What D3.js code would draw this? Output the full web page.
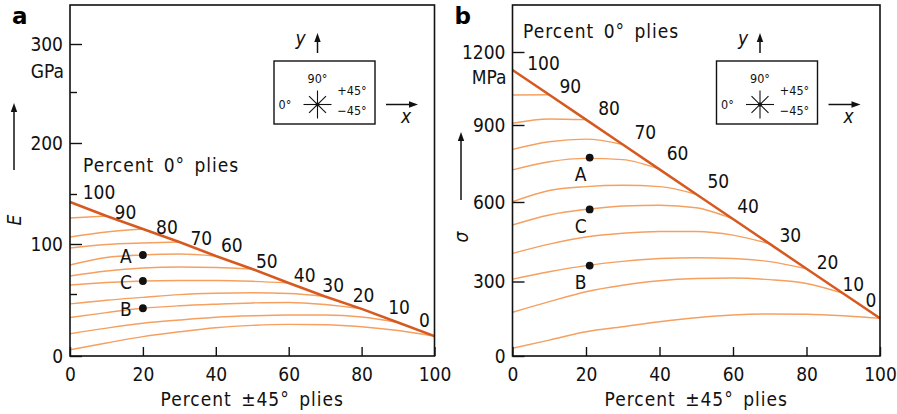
<!DOCTYPE html>
<html lang="en">
<head>
<meta charset="UTF-8">
<title>laminate E and strength</title>
<script src="https://cdn.jsdelivr.net/npm/d3@7"></script>
<style>
  body { margin: 0; background: #fff; }
  svg { display: block; font-family: "DejaVu Sans Condensed", "DejaVu Sans", sans-serif; }
  .thin { fill: none; stroke: #f5a060; stroke-width: 1.45; }
  .env { fill: none; stroke: #d65a20; stroke-width: 2.5; }
  .frame { fill: none; stroke: #111; stroke-width: 1.6; }
  .axis text { font-size: 19px; fill: #111; font-family: "DejaVu Sans Condensed", "DejaVu Sans", sans-serif; }
  .axis line { stroke: #111; stroke-width: 1.4; }
  .lbl { font-size: 19px; fill: #111; }
  .small { font-size: 12.5px; fill: #111; }
</style>
</head>
<body>
<script>
// x: percent +-45 plies, one value every 10 %
var xSteps = [0, 10, 20, 30, 40, 50, 60, 70, 80, 90, 100];
// percent 0 deg plies written along the envelope (at x = 0..100)
var envLabels = ["100", "90", "80", "70", "60", "50", "40", "30", "20", "10", "0"];
// percent 0 deg plies of each thin curve
var curvePct = [90, 80, 70, 60, 50, 40, 30, 20, 10, 0];

// panel a: modulus E, GPa
var envE = [142, 128, 115, 102, 88, 75, 61, 48, 38, 27, 16];
var curvesE = [
  [126, 128],
  [107, 112, 115],
  [96, 99.5, 101, 102],
  [79, 86.5, 89, 90, 88],
  [68, 73, 76, 77, 76.5, 75],
  [59, 61.5, 63, 63.5, 63.5, 62.7, 61],
  [42, 45, 47.3, 49.5, 50.7, 51.2, 50.5, 48],
  [31, 35, 38.5, 40.5, 41.8, 42.8, 43.2, 41.5, 38],
  [18, 22.5, 26.4, 29, 31.2, 32.4, 33, 33, 31.5, 27],
  [5, 10.5, 15.6, 19.5, 22.8, 24.7, 25.5, 25.2, 23.6, 20.5, 16]
];
var ptNames = ["A", "C", "B"];
var ptXE = [20, 20, 20];
var ptE = [89, 63, 38.5];

// panel b: strength sigma, MPa
var envS = [1126, 1024, 922, 824, 727, 630, 536, 442, 348, 252, 152];
var curvesS = [
  [1023, 1024],
  [907, 925, 922],
  [805, 835, 845, 824],
  [725, 757, 770, 765, 727],
  [601, 645, 660, 665, 660, 630],
  [513, 551, 572, 585, 588, 578, 536],
  [406, 441, 468, 482, 489, 489, 475, 442],
  [309, 337, 360, 376, 387, 390, 387, 375, 348],
  [176, 219, 259, 285, 303, 311, 313, 307, 292, 252],
  [31, 64, 98, 118, 138, 154, 165, 169, 168, 162, 152]
];
var ptXS = [21, 21, 21];
var ptS = [773, 572, 360];

var xTicks = [0, 20, 40, 60, 80, 100];
var yTicksE = [0, 100, 200, 300];
var yMinorE = [50, 150, 250];
var yTicksS = [0, 300, 600, 900, 1200];

var svg = d3.select('body').append('svg').attr('width', 897).attr('height', 414);

function arrow(g, x1, y1, x2, y2) {
  var a = Math.atan2(y2 - y1, x2 - x1), L = 9, W = 3.2;
  g.append('line').attr('x1', x1).attr('y1', y1).attr('x2', x2 - L * 0.6 * Math.cos(a)).attr('y2', y2 - L * 0.6 * Math.sin(a))
    .attr('stroke', '#111').attr('stroke-width', 1.5);
  var bx = x2 - L * Math.cos(a), by = y2 - L * Math.sin(a);
  g.append('path')
    .attr('d', 'M' + x2 + ',' + y2 + 'L' + (bx - W * Math.sin(a)) + ',' + (by + W * Math.cos(a)) +
      'L' + (bx + W * Math.sin(a)) + ',' + (by - W * Math.cos(a)) + 'Z')
    .attr('fill', '#111');
}

function inset(g, bx, by) {
  g.append('rect').attr('x', bx).attr('y', by).attr('width', 101).attr('height', 63)
    .attr('fill', 'none').attr('stroke', '#111').attr('stroke-width', 1.4);
  var cx = bx + 43.5, cy = by + 43.5;
  [0, 45, 90, 135].forEach(function (deg) {
    var r = deg % 90 === 0 ? 14 : 12, a = deg * Math.PI / 180;
    g.append('line').attr('x1', cx - r * Math.cos(a)).attr('y1', cy - r * Math.sin(a))
      .attr('x2', cx + r * Math.cos(a)).attr('y2', cy + r * Math.sin(a))
      .attr('stroke', '#111').attr('stroke-width', 1.1);
  });
  g.append('circle').attr('cx', cx).attr('cy', cy).attr('r', 2).attr('fill', '#111');
  g.append('text').attr('class', 'small').attr('x', cx).attr('y', by + 22).attr('text-anchor', 'middle').text('90°');
  g.append('text').attr('class', 'small').attr('x', bx + 11).attr('y', cy + 4).attr('text-anchor', 'middle').text('0°');
  g.append('text').attr('class', 'small').attr('x', bx + 78).attr('y', by + 34).attr('text-anchor', 'middle').text('+45°');
  g.append('text').attr('class', 'small').attr('x', bx + 78).attr('y', by + 54).attr('text-anchor', 'middle').text('−45°');
  // y and x direction arrows
  arrow(g, cx, by - 8, cx, by - 28);
  g.append('text').attr('class', 'lbl').attr('x', cx - 17).attr('y', by - 16).attr('font-style', 'italic')
    .attr('text-anchor', 'middle').text('y');
  arrow(g, bx + 112, cy, bx + 144, cy);
  g.append('text').attr('class', 'lbl').attr('x', bx + 132).attr('y', cy + 18).attr('font-style', 'italic')
    .attr('text-anchor', 'middle').text('x');
}

function drawPanel(c) {
  var g = svg.append('g');
  var x = d3.scaleLinear().domain([0, 100]).range([c.left, c.right]);
  var y = d3.scaleLinear().domain(c.yAnchor).range(c.yPix);

  var line = d3.line().x(function (d) { return x(d[0]); }).y(function (d) { return y(d[1]); })
    .curve(d3.curveMonotoneX);

  c.curves.forEach(function (vals) {
    g.append('path').attr('class', 'thin')
      .attr('d', line(vals.map(function (v, i) { return [xSteps[i], v]; })));
  });
  g.append('path').attr('class', 'env')
    .attr('d', d3.line().x(function (d) { return x(d[0]); }).y(function (d) { return y(d[1]); })
      (c.env.map(function (v, i) { return [xSteps[i], v]; })));

  g.append('rect').attr('class', 'frame').attr('x', c.left).attr('y', c.top)
    .attr('width', c.right - c.left).attr('height', c.bottom - c.top);

  g.append('g').attr('class', 'axis').attr('transform', 'translate(0,' + c.bottom + ')')
    .call(d3.axisBottom(x).tickValues(xTicks).tickSize(-9).tickPadding(12))
    .call(function (s) { s.select('.domain').remove(); });
  g.append('g').attr('class', 'axis').attr('transform', 'translate(' + c.left + ',0)')
    .call(d3.axisLeft(y).tickValues(c.yTicks).tickSize(-12).tickPadding(7).tickFormat(d3.format('d')))
    .call(function (s) { s.select('.domain').remove(); });
  if (c.yMinor) {
    g.append('g').attr('class', 'axis').attr('transform', 'translate(' + c.left + ',0)')
      .call(d3.axisLeft(y).tickValues(c.yMinor).tickSize(-7).tickFormat(''))
      .call(function (s) { s.select('.domain').remove(); });
  }

  // envelope labels
  envLabels.forEach(function (t, i) {
    g.append('text').attr('class', 'lbl').attr('text-anchor', 'middle').attr('dy', '0.36em')
      .attr('x', x(xSteps[i]) + c.nudge[i][0]).attr('y', y(c.env[i]) + c.nudge[i][1]).text(t);
  });

  // points A C B
  ptNames.forEach(function (n, i) {
    var px = x(c.ptX[i]), py = y(c.pt[i]);
    g.append('circle').attr('cx', px).attr('cy', py).attr('r', 3.9).attr('fill', '#111');
    g.append('text').attr('class', 'lbl').attr('text-anchor', 'middle').attr('dy', '0.36em')
      .attr('x', px + c.ptOff[0]).attr('y', py + c.ptOff[1]).text(n);
  });

  // unit, y title, arrows, headings
  g.append('text').attr('class', 'lbl').attr('text-anchor', 'end').attr('dy', '0.36em')
    .attr('x', c.left - 6).attr('y', c.unitY).text(c.unit);
  g.append('text').attr('class', 'lbl').attr('font-style', 'italic').attr('text-anchor', 'middle')
    .attr('transform', 'translate(' + c.titleX + ',' + c.titleY + ') rotate(-90)')
    .attr('dy', '0.36em').text(c.yTitle);
  arrow(g, c.titleX, c.arrowY[0], c.titleX, c.arrowY[1]);
  g.append('text').attr('class', 'lbl').attr('text-anchor', 'middle')
    .attr('x', (c.left + c.right) / 2 + 0).attr('y', 406).attr('letter-spacing', '1px').attr('word-spacing', '3px')
    .text('Percent ±45° plies');
  g.append('text').attr('class', 'lbl').attr('x', c.headX).attr('y', c.headY)
    .attr('letter-spacing', '1px').attr('word-spacing', '3px').text('Percent 0° plies');
  g.append('text').attr('x', c.left - 58).attr('y', 24).attr('font-size', 23).attr('font-weight', 'bold')
    .attr('font-family', 'DejaVu Sans, sans-serif').text(c.letter);

  inset(g, c.left + 204, 61);
}

drawPanel({
  letter: 'a', left: 70, right: 434.5, top: 5, bottom: 356,
  yAnchor: [0, 50, 100, 150, 200, 250, 300], yPix: [356, 294, 244, 194, 143, 92, 44],
  yTicks: yTicksE, yMinor: yMinorE, unit: 'GPa', unitY: 71, yTitle: 'E', titleX: 14, titleY: 220, arrowY: [170, 103],
  curves: curvesE, env: envE, ptX: ptXE, pt: ptE, ptOff: [-17, 1],
  nudge: [[29, -10], [19, -4], [24, -2], [22, -4], [16, -11], [14.5, -8], [16, -8], [8, -11], [2, -14], [1, -15], [-10, -16]],
  headX: 83, headY: 172
});
drawPanel({
  letter: 'b', left: 512.5, right: 880, top: 5, bottom: 356,
  yAnchor: [0, 300, 600, 900, 1200], yPix: [356, 281.5, 202, 125, 52],
  yTicks: yTicksS, yMinor: null, unit: 'MPa', unitY: 77, yTitle: 'σ', titleX: 461, titleY: 237, arrowY: [200, 132],
  curves: curvesS, env: envS, ptX: ptXS, pt: ptS, ptOff: [-9, 17],
  nudge: [[31, -7], [21, -9], [23, -11], [22.5, -12], [18, -16], [22, -13], [15, -13], [20.5, -9], [21, -7], [10, -9], [-9, -18]],
  headX: 523, headY: 38
});
</script>
</body>
</html>
